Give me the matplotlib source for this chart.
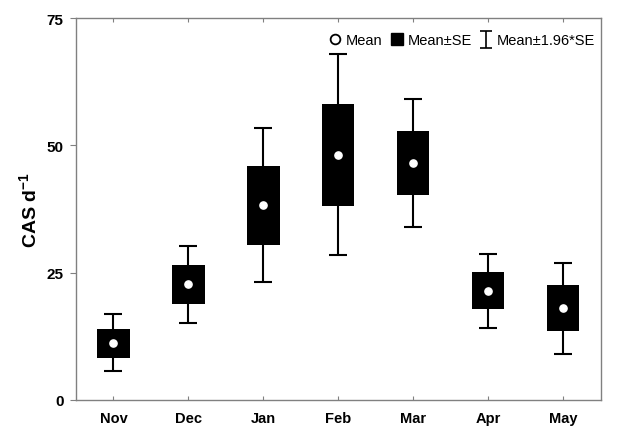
import matplotlib
matplotlib.use('Agg')
import matplotlib.pyplot as plt
from matplotlib.lines import Line2D
import numpy as np

plt.rcParams['font.family'] = ['Liberation Sans', 'DejaVu Sans']
plt.rcParams['mathtext.fontset'] = 'custom'
plt.rcParams['mathtext.rm'] = 'Liberation Sans'
plt.rcParams['mathtext.bf'] = 'Liberation Sans:bold'

# values
months = ['Nov', 'Dec', 'Jan', 'Feb', 'Mar', 'Apr', 'May']
mean = [11.2, 22.7, 38.2, 48.1, 46.6, 21.4, 18.0]
se_low = [8.3, 18.9, 30.5, 38.0, 40.2, 17.8, 13.5]
se_high = [14.0, 26.6, 46.0, 58.1, 52.9, 25.2, 22.5]
ci_low = [5.6, 15.2, 23.1, 28.4, 34.0, 14.2, 9.1]
ci_high = [16.9, 30.2, 53.4, 67.9, 59.1, 28.7, 26.8]
yticks = [0, 25, 50, 75]

x = np.arange(len(months))
mean = np.array(mean)
se_low = np.array(se_low)
se_high = np.array(se_high)
ci_low = np.array(ci_low)
ci_high = np.array(ci_high)

fig = plt.figure(figsize=(6.35, 4.27), dpi=100)
ax = fig.add_axes([0.1197, 0.0609, 0.8263, 0.8946])

# whiskers (mean +- 1.96*SE)
ax.errorbar(x, mean, yerr=[mean - ci_low, ci_high - mean], fmt='none',
            ecolor='black', elinewidth=1.5, capsize=6.3, capthick=1.5, zorder=2)
# boxes (mean +- SE)
ax.bar(x, se_high - se_low, bottom=se_low, width=0.43, color='black', zorder=3)
# means
ax.plot(x, mean, 'o', color='white', markersize=5.2, zorder=4)

ax.set_xlim(-0.5, 6.5)
ax.set_ylim(0, 75)
ax.set_xticks(x)
ax.set_xticklabels(months, fontsize=10.5, fontweight='bold')
ax.set_yticks(yticks)
ax.set_yticklabels([str(t) for t in yticks], fontsize=11, fontweight='bold')
ax.tick_params(axis='x', direction='in', length=3, width=0.8, color='#808080', top=True, pad=8)
ax.tick_params(axis='y', direction='out', length=4, width=0.8, color='#808080', pad=5)
for s in ax.spines.values():
    s.set_color('#808080')
    s.set_linewidth(1.0)
ax.set_ylabel(r'CAS d$^{\mathbf{-1}}$', fontsize=14, fontweight='bold', labelpad=4)

# legend handles
h_mean = Line2D([], [], marker='o', linestyle='none', markerfacecolor='white',
                markeredgecolor='black', markeredgewidth=1.3, markersize=7)
h_se = Line2D([], [], marker='s', linestyle='none', color='black', markersize=9)
h_ci = ax.errorbar([np.nan], [np.nan], yerr=[1], fmt='none', ecolor='black',
                   elinewidth=1.2, capsize=4, capthick=1.2)
leg = ax.legend([h_mean, h_se, h_ci], ['Mean', 'Mean±SE', 'Mean±1.96*SE'],
                loc='upper right', ncol=3, frameon=False, fontsize=10.5,
                handlelength=0.7, handletextpad=0.4, columnspacing=0.6,
                borderaxespad=0.0, bbox_to_anchor=(1.0, 0.975),
                handler_map={type(h_ci): matplotlib.legend_handler.HandlerErrorbar(yerr_size=0.6)})

fig.savefig('out.png', dpi=100)
